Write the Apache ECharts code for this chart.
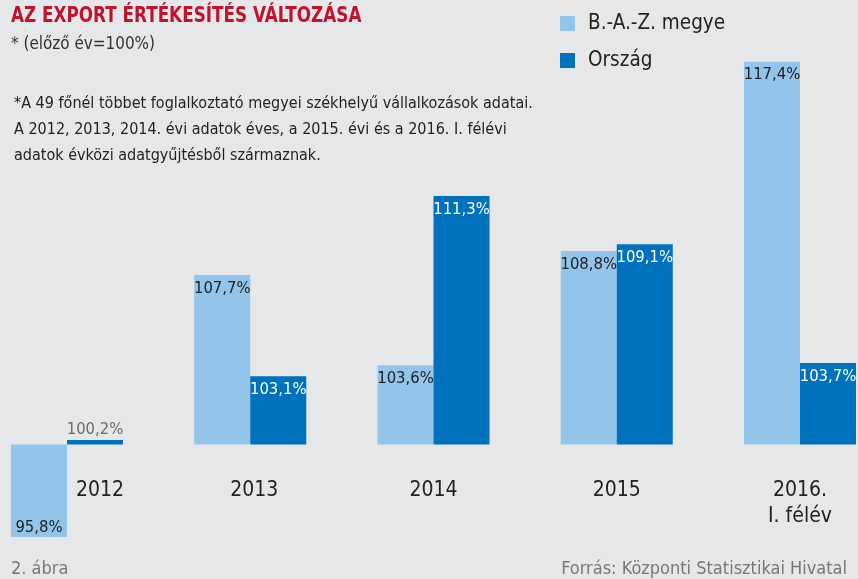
<!DOCTYPE html>
<html>
<head>
<meta charset="utf-8">
<script src="https://cdn.jsdelivr.net/npm/echarts@6/dist/echarts.min.js"></script>
<style>
html,body{margin:0;padding:0;background:#E6E7E9;}
#c{width:858px;height:579px;}
</style>
</head>
<body>
<div id="c"></div>
<script>
var categories = ['2012', '2013', '2014', '2015', '2016.\nI. félév'];
var megye = [95.8, 107.7, 103.6, 108.8, 117.4];
var orszag = [100.2, 103.1, 111.3, 109.1, 103.7];
var seriesNames = ['B.-A.-Z. megye', 'Ország'];
var baseline = 100;

var FONT = '"Liberation Sans Narrow", "DejaVu Sans Condensed", sans-serif';
var LIGHT = '#93C5EA';
var DARK = '#0071BC';

function fmt(v) { return v.toFixed(1).replace('.', ',') + '%'; }

var chart = echarts.init(document.getElementById('c'), null, {renderer: 'canvas'});

var megyeData = megye.map(function (v, i) {
  var item = { value: +(v - baseline).toFixed(2) };
  if (v < baseline) {
    item.label = { position: 'insideBottom', distance: 1 };
  }
  return item;
});
var orszagData = orszag.map(function (v, i) {
  var item = { value: +(v - baseline).toFixed(2) };
  if (v - baseline < 1) {
    item.label = { position: 'top', distance: 2, color: '#6b6b6b' };
  }
  return item;
});

var labelPad = [66, 8, 0, 0, 0];
var catData = categories.map(function (c, i) {
  if (labelPad[i]) return { value: c, textStyle: { padding: [0, 0, 0, labelPad[i]] } };
  return c;
});

chart.setOption({
  backgroundColor: '#E6E7E9',
  animation: false,
  textStyle: { fontFamily: FONT },
  grid: { left: 67, width: 733, top: 48.5, height: 429 },
  legend: {
    orient: 'vertical',
    left: 560, top: 13, padding: 0,
    itemWidth: 15, itemHeight: 15, itemGap: 16,
    icon: 'rect',
    textStyle: { fontFamily: FONT, fontSize: 20.5, color: '#222', padding: [0, 0, 0, 8] },
    data: seriesNames
  },
  xAxis: {
    type: 'category',
    data: catData,
    boundaryGap: false,
    axisLine: { show: false, onZero: false },
    axisTick: { show: false },
    axisLabel: {
      show: true,
      margin: 0, verticalAlign: 'top', lineHeight: 26,
      fontFamily: FONT, fontSize: 21, color: '#222', interval: 0
    }
  },
  yAxis: {
    type: 'value', min: -1.5, max: 18, show: false,
    splitLine: { show: false }
  },
  series: [
    {
      name: seriesNames[0], type: 'bar', barWidth: 56, barGap: '0%', clip: false,
      itemStyle: { color: LIGHT },
      label: {
        show: true, position: 'insideTop', distance: 5,
        fontFamily: FONT, fontSize: 16.5, color: '#222',
        formatter: function (p) { return fmt(megye[p.dataIndex]); }
      },
      data: megyeData
    },
    {
      name: seriesNames[1], type: 'bar', barWidth: 56, barGap: '0%', clip: false,
      itemStyle: { color: DARK },
      label: {
        show: true, position: 'insideTop', distance: 5,
        fontFamily: FONT, fontSize: 16.5, color: '#ffffff',
        formatter: function (p) { return fmt(orszag[p.dataIndex]); }
      },
      data: orszagData
    }
  ],
  graphic: [
    { type: 'text', x: 11, y: 6, scaleX: 0.89, style: { text: 'AZ EXPORT ÉRTÉKESÍTÉS VÁLTOZÁSA', font: 'bold 21px ' + FONT, fill: '#C1132D' } },
    { type: 'text', x: 11, y: 35, scaleX: 0.94, style: { text: '* (előző év=100%)', font: '18px ' + FONT, fill: '#333' } },
    { type: 'text', x: 14, y: 91, scaleX: 0.97, style: {
      text: '*A 49 főnél többet foglalkoztató megyei székhelyű vállalkozások adatai.\nA 2012, 2013, 2014. évi adatok éves, a 2015. évi és a 2016. I. félévi\nadatok évközi adatgyűjtésből származnak.',
      font: '16.5px ' + FONT, fill: '#222', lineHeight: 26 } },
    { type: 'text', left: 11, top: 560, style: { text: '2. ábra', font: '18px ' + FONT, fill: '#777' } },
    { type: 'text', right: 11, top: 560, style: { text: 'Forrás: Központi Statisztikai Hivatal', font: '18px ' + FONT, fill: '#777' } }
  ]
});
</script>
</body>
</html>
